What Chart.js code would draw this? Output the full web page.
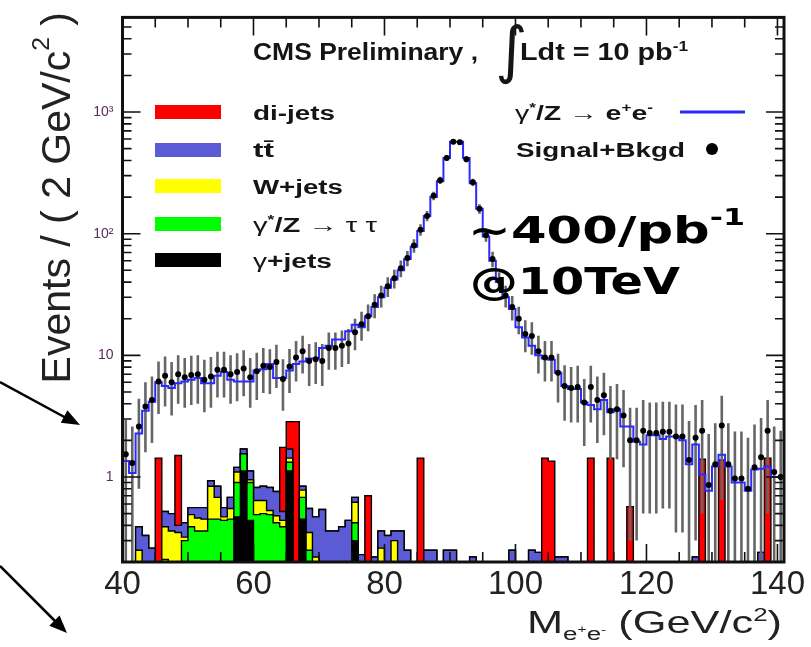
<!DOCTYPE html>
<html lang="en">
<head>
<meta charset="UTF-8">
<title>Z → ee invariant mass</title>
<script src="https://cdn.jsdelivr.net/npm/chart.js@4.4.0/dist/chart.umd.min.js"></script>
<style>
  body { margin: 0; background: #fff; }
  #wrap { position: relative; width: 811px; height: 647px; overflow: hidden; font-family: "Liberation Sans", Arial, sans-serif; }
  #wrap canvas, #wrap svg { position: absolute; left: 0; top: 0; }
  .txt { position: absolute; white-space: nowrap; line-height: 1; color: #151515; transform-origin: 0 0; }
  .b { font-weight: bold; }
  .sym { font-weight: normal; }
  sup, sub { font-size: 0.6em; line-height: 0; }
  .swatch { position: absolute; width: 66px; height: 14px; }
  .ytitle { font-size: 41px; writing-mode: vertical-rl; transform: rotate(180deg); transform-origin: 50% 50%; color: #222; }
  .xtitle { font-size: 32px; color: #222; }
  .big { font-family: "DejaVu Sans", sans-serif; font-weight: bold; font-size: 38px; color: #000; }
</style>
</head>
<body>
<div id="wrap">
  <canvas id="massChart" width="811" height="647"></canvas>

  <svg width="811" height="647">
    <line x1="0" y1="382" x2="68" y2="419" stroke="#000" stroke-width="2.5"/>
    <polygon points="80,425 60.8,422.7 67.4,410.3" fill="#000"/>
    <line x1="0" y1="566" x2="57" y2="623" stroke="#000" stroke-width="2.5"/>
    <polygon points="67,633 49.3,625.8 59.6,615.4" fill="#000"/>
  </svg>

  <div class="txt ytitle" style="left:36px; top:12px;">Events / ( 2 GeV/c<sup>2</sup> )</div>
  <div class="txt xtitle" data-w="255" data-right="782" style="top:606px;">M<sub>e<sup>+</sup>e<sup>-</sup></sub> (GeV/c<sup>2</sup>)</div>

  <!-- header -->
  <div class="txt b" data-w="225" style="left:253px; top:41px; font-size:23px;">CMS Preliminary ,</div>
  <div class="txt sym" style="left:495px; top:19px; font-size:62px; font-family:'DejaVu Sans';">∫</div>
  <div class="txt b" data-w="168" style="left:520px; top:41px; font-size:23px;">Ldt = 10 pb<sup>-1</sup></div>

  <!-- stack legend -->
  <div class="swatch" style="left:155px; top:105px; background:#ff0000;"></div>
  <div class="swatch" style="left:155px; top:143px; background:#5b5bd6;"></div>
  <div class="swatch" style="left:155px; top:179px; background:#ffff00;"></div>
  <div class="swatch" style="left:155px; top:217px; background:#00ff00;"></div>
  <div class="swatch" style="left:155px; top:253px; background:#000000;"></div>
  <div class="txt b" data-w="82" style="left:253px; top:103px; font-size:20px;">di-jets</div>
  <div class="txt b" data-w="21" style="left:253px; top:140px; font-size:20px;">tt&#772;</div>
  <div class="txt b" data-w="90" style="left:253px; top:177px; font-size:20px;">W+jets</div>
  <div class="txt b" data-w="124" style="left:253px; top:215px; font-size:20px;"><span class="sym">γ</span><sup>*</sup>/Z → <span class="sym">τ τ</span></div>
  <div class="txt b" data-w="79" style="left:253px; top:251px; font-size:20px;"><span class="sym">γ</span>+jets</div>

  <!-- signal / data legend -->
  <div class="txt b" data-w="138" style="left:515px; top:103px; font-size:20px;"><span class="sym">γ</span><sup>*</sup>/Z → e<sup>+</sup>e<sup>-</sup></div>
  <div class="txt b" data-w="169" style="left:516px; top:140px; font-size:20px;">Signal+Bkgd</div>
  <svg width="811" height="647" style="pointer-events:none">
    <line x1="680" y1="112" x2="745" y2="112" stroke="#2a2aff" stroke-width="3"/>
    <circle cx="712" cy="149" r="6" fill="#000"/>
  </svg>

  <!-- luminosity note -->
  <div class="txt big" data-w="277" style="left:468px; top:211px;">~400/pb<sup style="font-size:0.62em; vertical-align:0.75em;">-1</sup></div>
  <div class="txt big" data-w="210" style="left:470px; top:262px;">@10TeV</div>
</div>

<script>
// 1 GeV bins from 40 to 141 GeV/c^2
const firstEdge = 40;
const lastEdge = 141;

// pseudo-data (signal + background) and its error bars
const dataCounts = [
  1.54, 1.3, 2.6, 3.8, 4.3, 6.1, 6.8, 6.0, 7.0, 6.6,
  6.9, 7.0, 6.3, 6.7, 7.6, 7.6, 7.0, 7.3, 7.8, 6.6,
  7.4, 8.2, 8.0, 8.8, 6.4, 8.1, 9.6, 10.8, 9.0, 9.3,
  9.0, 11.5, 11.5, 12.0, 12.5, 15.5, 18, 21, 26, 31,
  37, 43, 52, 63, 80, 108, 140, 205, 275, 420,
  570, 565, 410, 265, 160, 97, 62, 41, 31, 25,
  20, 15, 14.4, 10.8, 9.6, 9.6, 7.2, 5.6, 5.4, 5.5,
  4.1, 5.5, 4.3, 4.7, 3.5, 3.6, 3.2, 2.0, 2.0, 2.4,
  2.3, 2.3, 2.35, 2.35, 2.15, 2.15, 1.38, 2.1, 2.4, 0.86,
  1.27, 2.65, 1.27, 0.97, 0.97, 0.8, 1.2, 1.45, 2.4, 1.1,
  1.0
];
const dataErrors = [
  1.4, 1.3, 1.8, 2.2, 2.4, 2.8, 3.0, 2.8, 3.0, 2.9,
  3.0, 3.0, 2.9, 3.0, 3.1, 3.1, 3.0, 3.1, 3.2, 2.9,
  3.1, 3.3, 3.2, 3.4, 2.9, 3.2, 3.5, 3.7, 3.4, 3.5,
  3.4, 3.9, 3.9, 4.0, 4.0, 4.5, 4.8, 5.2, 5.8, 6.3,
  6.9, 7.5, 8.2, 9.0, 10.2, 11.8, 13.5, 16.3, 19, 23,
  27, 27, 23, 18.5, 14.4, 11.2, 9.0, 7.3, 6.3, 5.7,
  5.1, 4.4, 4.3, 3.7, 3.5, 3.5, 3.1, 2.7, 2.6, 2.7,
  2.3, 2.7, 2.4, 2.5, 2.1, 2.2, 2.0, 1.7, 1.7, 1.9,
  1.8, 1.8, 1.8, 1.8, 1.8, 1.8, 1.5, 1.8, 1.9, 1.4,
  1.5, 2.0, 1.5, 1.4, 1.4, 1.3, 1.5, 1.6, 1.9, 1.5,
  1.4
];

// gamma*/Z -> ee signal
const signalZee = [
  1.35, 1.08, 2.28, 3.5, 4.15, 6.0, 5.6, 5.4, 5.9, 6.1,
  6.3, 6.5, 5.9, 5.9, 6.8, 7.3, 6.3, 6.1, 6.1, 6.1,
  7.5, 7.7, 8.5, 6.5, 6.5, 7.5, 8.5, 8.9, 9.4, 9.4,
  11.5, 12, 13.5, 13.5, 15.8, 17.8, 17, 21, 25, 30,
  36, 42, 50, 62, 78, 105, 140, 200, 270, 420,
  570, 570, 420, 260, 160, 95, 60, 40, 30, 24,
  17, 14, 12, 10, 9.4, 9.2, 7.2, 5.6, 5.3, 5.3,
  4.1, 3.9, 3.6, 4.3, 3.4, 3.6, 2.6, 2.6, 1.95, 1.85,
  2.2, 2.2, 2.05, 2.15, 2.15, 2.0, 1.27, 1.85, 1.05, 0.77,
  1.22, 1.52, 1.22, 0.9, 0.9, 0.77, 1.15, 1.17, 1.22, 1.0,
  1.0
];

// backgrounds, stacked in this order (bottom first)
const gammaJets = [
  0, 0, 0, 0, 0, 0, 0, 0, 0, 0,
  0, 0, 0, 0, 0, 0, 0, 0.47, 1.12, 0.44,
  0, 0, 0, 0, 0, 1.12, 0, 0.45, 0, 0,
  0, 0, 0, 0, 0, 0.3, 0, 0, 0, 0,
  0, 0, 0, 0, 0, 0, 0, 0, 0, 0,
  0, 0, 0, 0, 0, 0, 0, 0, 0, 0,
  0, 0, 0, 0, 0, 0, 0, 0, 0, 0,
  0, 0, 0, 0, 0, 0, 0, 0, 0, 0,
  0, 0, 0, 0, 0, 0, 0, 0, 0, 0,
  0, 0, 0, 0, 0, 0, 0, 0, 0, 0,
  0
];
const zTauTau = [
  0, 0, 0, 0, 0, 0, 0.21, 0.2, 0.2, 0.3,
  0.39, 0.36, 0.36, 0.45, 0.45, 0.44, 0.45, 0.43, 0.43, 0.46,
  0.49, 0.5, 0.49, 0.42, 0.39, 0.2, 0, 0.23, 0.25, 0,
  0, 0, 0, 0, 0, 0.12, 0, 0, 0, 0,
  0, 0, 0, 0, 0, 0, 0, 0, 0, 0,
  0, 0, 0, 0, 0, 0, 0, 0, 0, 0,
  0, 0, 0, 0, 0, 0, 0, 0, 0, 0,
  0, 0, 0, 0, 0, 0, 0, 0, 0, 0,
  0, 0, 0, 0, 0, 0, 0, 0, 0, 0,
  0, 0, 0, 0, 0, 0, 0, 0, 0, 0,
  0
];
const wJets = [
  0, 0, 0.25, 0, 0, 0, 0.18, 0.16, 0.15, 0.02,
  0.1, 0.1, 0.09, 0.39, 0.23, 0.03, 0.1, 0.2, 0, 0.05,
  0.15, 0.14, 0.04, 0.06, 0.05, 0.11, 0, 0.1, 0.1, 0.22,
  0, 0, 0, 0, 0, 0.2, 0, 0, 0, 0.26,
  0, 0.3, 0, 0, 0, 0, 0, 0, 0, 0,
  0, 0, 0, 0, 0, 0, 0, 0, 0, 0,
  0, 0, 0, 0, 0, 0, 0, 0, 0, 0,
  0, 0, 0, 0, 0, 0, 0, 0, 0, 0,
  0, 0, 0, 0, 0, 0, 0, 0, 0, 0,
  0, 0, 0, 0, 0, 0, 0, 0, 0, 0,
  0
];
const ttbar = [
  0, 0, 0.14, 0.33, 0.26, 0, 0.13, 0.14, 0.05, 0.1,
  0.07, 0.1, 0.11, 0.09, 0.16, 0.09, 0.13, 0.1, 0.15, 0.17,
  0.18, 0.2, 0.29, 0.28, 0.08, 0.27, 0, 0.06, 0.2, 0.25,
  0.54, 0.36, 0.36, 0.39, 0.44, 0.06, 0.23, 0, 0.22, 0.1,
  0.33, 0.06, 0.36, 0.25, 0, 0, 0.25, 0.25, 0, 0.25,
  0.25, 0, 0, 0.22, 0, 0, 0, 0, 0, 0.25,
  0, 0, 0.25, 0.24, 0, 0, 0.22, 0.22, 0, 0,
  0, 0, 0, 0, 0, 0, 0, 0, 0, 0,
  0, 0, 0, 0, 0, 0, 0, 0.22, 0, 0,
  0, 0, 0, 0, 0, 0, 0, 0.24, 0, 0,
  0
];
const diJets = [
  0, 0, 0, 0, 0, 1.43, 0, 0, 1.1, 0,
  0, 0, 0, 0, 0, 0, 0, 0, 0, 0,
  0, 0, 0, 0, 1.23, 1.15, 2.85, 0, 0, 0,
  0, 0, 0, 0, 0, 0, 0, 0.7, 0, 0,
  0, 0, 0, 0, 0, 1.43, 0, 0, 0, 0,
  0, 0, 0, 0, 0, 0, 0, 0, 0, 0,
  0, 0, 0, 0, 1.43, 1.35, 0, 0, 0, 0,
  0, 1.43, 0, 0, 1.43, 0, 0, 0.57, 0, 0,
  0, 0, 0, 0, 0, 0, 0, 0, 1.4, 0,
  0, 1.38, 0, 0, 0, 0, 0, 0, 1.43, 0,
  0
];

// axis ticks
const xLabelValues = [40, 60, 80, 100, 120, 140];
const xMinorValues = [45, 50, 55, 65, 70, 75, 85, 90, 95, 105, 110, 115, 125, 130, 135];
const yTickValues = [
  0.2, 0.3, 0.4, 0.5, 0.6, 0.7, 0.8, 0.9,
  1, 2, 3, 4, 5, 6, 7, 8, 9,
  10, 20, 30, 40, 50, 60, 70, 80, 90,
  100, 200, 300, 400, 500, 600, 700, 800, 900,
  1000, 2000, 3000, 4000, 5000
];
const yLabelText = { 1: '1', 10: '10', 100: '10²', 1000: '10³' };

const stackLayers = [
  { label: 'γ+jets', values: gammaJets, color: '#000000' },
  { label: 'γ*/Z → ττ', values: zTauTau, color: '#00ff00' },
  { label: 'W+jets', values: wJets, color: '#ffff00' },
  { label: 'tt̄', values: ttbar, color: '#5b5bd6' },
  { label: 'di-jets', values: diJets, color: '#ff0000' }
];

// empty bins sit below the axis minimum so the log scale can place them
const floorValue = v => Math.max(v, 0.01);

function stepPoints(values) {
  const pts = values.map((v, i) => ({ x: firstEdge + i, y: floorValue(v) }));
  pts.push({ x: lastEdge, y: floorValue(values[values.length - 1]) });
  return pts;
}

let running = dataCounts.map(() => 0);
const stackDatasets = stackLayers.map((layer, k) => {
  running = running.map((s, i) => s + layer.values[i]);
  return {
    label: layer.label,
    data: stepPoints(running),
    stepped: true,
    fill: 'start',
    backgroundColor: layer.color,
    borderColor: '#000',
    borderWidth: 1.4,
    pointRadius: 0,
    order: 2 + k
  };
});

const errorBars = {
  id: 'errorBars',
  afterDatasetDraw(chart, args) {
    if (chart.data.datasets[args.index].label !== 'γ+jets') return;
    const { ctx, chartArea: a, scales: { x, y } } = chart;
    ctx.save();
    ctx.beginPath();
    ctx.rect(a.left, a.top, a.right - a.left, a.bottom - a.top);
    ctx.clip();
    ctx.strokeStyle = '#666';
    ctx.lineWidth = 2.6;
    ctx.beginPath();
    dataCounts.forEach((v, i) => {
      const px = x.getPixelForValue(firstEdge + i + 0.5);
      ctx.moveTo(px, y.getPixelForValue(floorValue(v - dataErrors[i])));
      ctx.lineTo(px, y.getPixelForValue(v + dataErrors[i]));
    });
    ctx.stroke();
    ctx.restore();
  }
};

const frameTicks = {
  id: 'frameTicks',
  afterDatasetsDraw(chart) {
    const { ctx, chartArea: a, scales: { x, y } } = chart;
    ctx.save();
    ctx.strokeStyle = '#111';
    ctx.lineWidth = 1.6;
    ctx.beginPath();
    yTickValues.forEach(v => {
      const p = y.getPixelForValue(v);
      const len = yLabelText[v] ? 18 : 9;
      ctx.moveTo(a.left, p); ctx.lineTo(a.left + len, p);
      ctx.moveTo(a.right, p); ctx.lineTo(a.right - len, p);
    });
    xLabelValues.concat(xMinorValues).forEach(v => {
      const p = x.getPixelForValue(v);
      const len = xLabelValues.includes(v) ? 18 : 10;
      ctx.moveTo(p, a.top); ctx.lineTo(p, a.top + len);
      ctx.moveTo(p, a.bottom); ctx.lineTo(p, a.bottom - len);
    });
    ctx.stroke();
    ctx.lineWidth = 3;
    ctx.strokeRect(a.left, a.top, a.right - a.left, a.bottom - a.top);
    ctx.restore();
  }
};

new Chart(document.getElementById('massChart'), {
  type: 'line',
  data: {
    datasets: [
      {
        label: 'Signal+Bkgd',
        type: 'scatter',
        data: dataCounts.map((v, i) => ({ x: firstEdge + i + 0.5, y: v })),
        pointRadius: 3,
        pointBackgroundColor: '#000',
        pointBorderWidth: 0,
        order: 0
      },
      {
        label: 'γ*/Z → e+e-',
        data: stepPoints(signalZee),
        stepped: true,
        fill: false,
        borderColor: '#2a2aff',
        borderWidth: 2,
        pointRadius: 0,
        order: 1
      },
      ...stackDatasets
    ]
  },
  options: {
    responsive: false,
    animation: false,
    layout: { padding: { top: 10, right: 27, left: 0, bottom: 0 } },
    plugins: { legend: { display: false }, tooltip: { enabled: false } },
    scales: {
      x: {
        type: 'linear',
        min: firstEdge,
        max: lastEdge,
        afterBuildTicks: s => { s.ticks = xLabelValues.map(v => ({ value: v })); },
        afterFit: s => { s.height = 85; },
        grid: { display: false, drawTicks: false },
        border: { display: false },
        ticks: {
          autoSkip: false, maxRotation: 0, padding: 3, color: '#222',
          font: { family: 'Liberation Sans', size: 33 }
        }
      },
      y: {
        type: 'logarithmic',
        min: 0.2,
        max: 6000,
        afterBuildTicks: s => { s.ticks = yTickValues.map(v => ({ value: v })); },
        afterFit: s => { s.width = 122.5; },
        grid: { display: false, drawTicks: false },
        border: { display: false },
        ticks: {
          autoSkip: false, padding: 9, color: '#5a2a5a',
          font: { family: 'Liberation Sans', size: 14 },
          callback: v => yLabelText[v] || ''
        }
      }
    }
  },
  plugins: [errorBars, frameTicks]
});

// stretch the overlay labels to their measured widths
document.querySelectorAll('[data-w]').forEach(el => {
  const w = el.getBoundingClientRect().width;
  el.style.transform = 'scaleX(' + (el.dataset.w / w) + ')';
});
document.querySelectorAll('[data-right]').forEach(el => {
  el.style.left = (el.dataset.right - el.dataset.w) + 'px';
});
</script>
</body>
</html>
